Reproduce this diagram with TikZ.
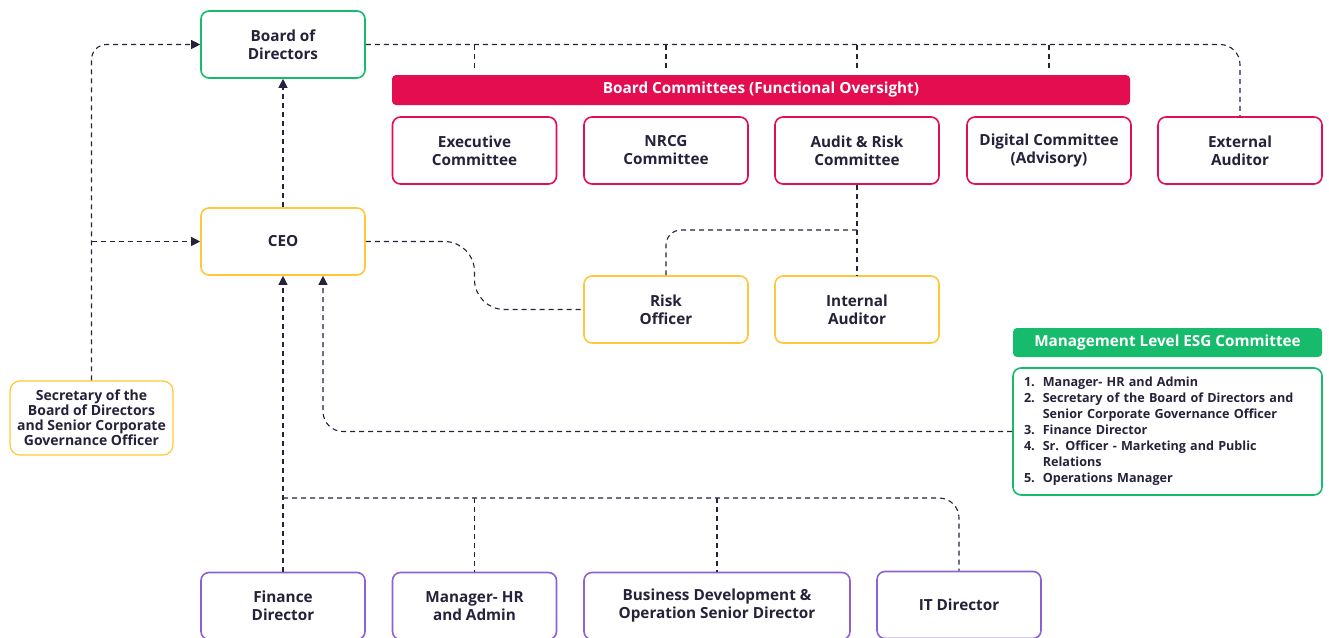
\documentclass[tikz,border=0pt]{standalone}
\usepackage{fontspec}
\setmainfont{Open Sans}
\usetikzlibrary{arrows.meta, positioning, calc}
\definecolor{ink}{HTML}{25223A}
\definecolor{govgreen}{HTML}{16BC6C}
\definecolor{crimson}{HTML}{E30D50}
\definecolor{mgmtyellow}{HTML}{FFC83A}
\definecolor{staffpurple}{HTML}{8C62D2}

\begin{document}
\begin{tikzpicture}[
        x=1pt, y=-1pt,
        >={Triangle[length=9pt, width=9pt]},
        every node/.style={font=\bfseries\fontsize{15.3}{18}\selectfont, text=ink, align=center},
        box/.style={draw, fill=white, rounded corners=8pt, line width=1.6pt, minimum width=164pt, minimum height=67pt, inner sep=2pt},
        greenbox/.style={box, draw=govgreen},
        redbox/.style={box, draw=crimson},
        yellowbox/.style={box, draw=mgmtyellow},
        purplebox/.style={box, draw=staffpurple},
        banner/.style={fill=#1, rounded corners=4pt, text=white, font=\bfseries\fontsize{15.3}{17}\selectfont},
        link/.style={draw=ink, line width=1.1pt, dash pattern=on 5pt off 4pt},
        linkarrow/.style={link, ->}
    ]
    \useasboundingbox (0,0) rectangle (1329,637);

    \node [greenbox] (bod) at (283,44.5) {Board of\\Directors};
    \node [banner=crimson, minimum width=738pt, minimum height=30pt] (bc) at (761,90) {Board Committees (Functional Oversight)};
    \node [redbox] (exec) at (474.5,150.5) {Executive\\Committee};
    \node [redbox] (nrcg) at (666,150.5) {NRCG\\Committee};
    \node [redbox] (arc) at (857,150.5) {Audit \& Risk\\Committee};
    \node [redbox] (dig) at (1049,150.5) {Digital Committee\\(Advisory)};
    \node [redbox] (ext) at (1240,150.5) {External\\Auditor};

    \node [yellowbox] (ceo) at (283,241.5) {CEO};
    \node [yellowbox] (risk) at (666,309.5) {Risk\\Officer};
    \node [yellowbox] (ia) at (857,309.5) {Internal\\Auditor};
    \node [yellowbox, minimum width=163pt, minimum height=74pt, rounded corners=10pt, line width=1.2pt,
           font=\bfseries\fontsize{14}{15}\selectfont] (sec) at (91.5,418) {Secretary of the\\Board of Directors\\and Senior Corporate\\Governance Officer};

    \node [banner=govgreen, minimum width=309pt, minimum height=29pt] (esghead) at (1167.5,342.5) {Management Level ESG Committee};
    \node [greenbox, minimum width=309pt, minimum height=127pt, text width=287pt, align=left,
           font=\bfseries\fontsize{12.6}{16}\selectfont] (esglist) at (1167.5,431.5) {%
        \begin{tabular}{@{}l@{\hspace{8pt}}l@{}}
            1. & Manager- HR and Admin\\
            2. & Secretary of the Board of Directors and\\
               & Senior Corporate Governance Officer\\
            3. & Finance Director\\
            4. & Sr. Officer - Marketing and Public\\
               & Relations\\
            5. & Operations Manager
        \end{tabular}};

    \node [purplebox] (fin) at (283,606) {Finance\\Director};
    \node [purplebox] (hr) at (474.5,606) {Manager- HR\\and Admin};
    \node [purplebox, minimum width=266pt] (bd) at (717,606) {Business Development \&\\Operation Senior Director};
    \node [purplebox] (it) at (959,605) {IT Director};

    \coordinate (audj) at ($(arc.south)!0.5!(ia.north)$);
    \coordinate (bus) at (283,498);

    \draw [link, rounded corners=20pt] (bod.east) -| (ext.north);
    \foreach \c in {exec, nrcg, arc, dig}
        \draw [link] (\c |- bod.east) -- ($(\c |- bc.north)+(0,-5)$);
    \draw [linkarrow] (ceo.north) -- (bod.south);
    \draw [linkarrow, rounded corners=15pt] (sec.north) |- (bod.west);
    \draw [linkarrow] (sec.north |- ceo.west) -- (ceo.west);
    \draw [link, rounded corners=30pt] (ceo.east) -- (exec |- ceo.east) -- (exec |- risk.west) -- (risk.west);
    \draw [link] (arc.south) -- (ia.north);
    \draw [link, rounded corners=15pt] (audj) -| (risk.north);
    \draw [linkarrow, rounded corners=20pt] (esglist.west) -| ([xshift=40pt]ceo.south);
    \draw [linkarrow] (fin.north) -- (ceo.south);
    \draw [link, rounded corners=20pt] (bus) -| (it.north);
    \draw [link] (hr.north |- bus) -- (hr.north);
    \draw [link] (bd.north |- bus) -- (bd.north);
\end{tikzpicture}
\end{document}
